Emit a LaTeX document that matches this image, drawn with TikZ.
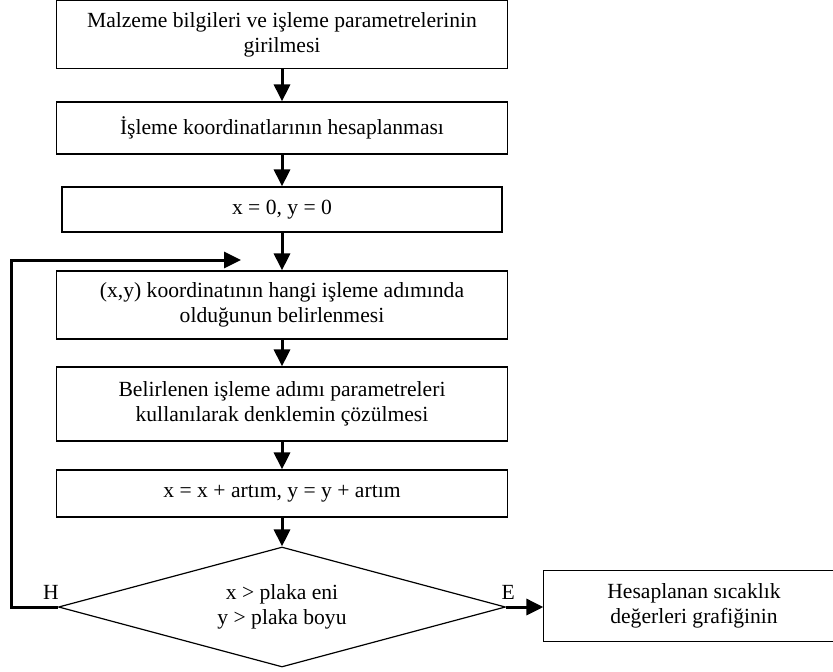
\documentclass[tikz,border=0pt]{standalone}
\usepackage{fontspec}
\setmainfont{Liberation Serif}
\usetikzlibrary{arrows.meta,shapes.geometric}

\begin{document}
\begin{tikzpicture}[x=1pt, y=-1pt,
		yazi/.style={font=\fontsize{21.6}{25}\selectfont},
		kenar/.style={line width=1.2pt},
		kutu/.style={draw, kenar, rectangle, inner sep=0pt, align=center, yazi},
		karar/.style={draw, kenar, diamond, aspect=3.7, inner sep=0pt, minimum width=447pt, minimum height=120pt, align=center, yazi},
		ok/.style={line width=3pt, -{Triangle[length=17pt, width=16pt]}},
		etiket/.style={inner sep=0pt, yazi}]
			%%%%% START %%%%%
			
			\useasboundingbox (0, 0) rectangle (833, 672);
			\clip (0, 0) rectangle (833, 672);
			
			\node[kutu, minimum width=451pt, minimum height=68pt] (giris) at (282, 34.5) {Malzeme bilgileri ve işleme parametrelerinin\\girilmesi};
			\node[kutu, minimum width=451pt, minimum height=52pt] (koord) at (282, 128) {İşleme koordinatlarının hesaplanması};
			\node[kutu, minimum width=440pt, minimum height=45pt] (baslat) at (282, 209.5) {x = 0, y = 0};
			\node[kutu, minimum width=451pt, minimum height=68pt] (adim) at (282, 305) {(x,y) koordinatının hangi işleme adımında\\olduğunun belirlenmesi};
			\node[kutu, minimum width=451pt, minimum height=74pt] (cozum) at (282, 404) {Belirlenen işleme adımı parametreleri\\kullanılarak denklemin çözülmesi};
			\node[kutu, minimum width=451pt, minimum height=47pt] (artim) at (282, 493.5) {x = x + artım, y = y + artım};
			\node[karar] (kontrol) at (282, 607) {x > plaka eni\\y > plaka boyu};
			
			% sag kenari resmin disinda kalan kutu
			\node[kutu, draw=none, minimum width=300pt, minimum height=70pt] (sonuc) at (694, 606) {Hesaplanan sıcaklık\\değerleri grafiğinin};
			\draw[kenar] (sonuc.north east) -- (sonuc.north west) -- (sonuc.south west) -- (sonuc.south east);
			
			\draw[ok] (giris) -- (koord);
			\draw[ok] (koord) -- (baslat);
			\draw[ok] (baslat) -- (adim);
			\draw[ok] (adim) -- (cozum);
			\draw[ok] (cozum) -- (artim);
			\draw[ok] (artim) -- (kontrol);
			
			% hayir: geri donus
			\coordinate (donus) at (241, 260);
			\draw[ok] (kontrol.west) -- ++(-46, 0) |- (donus);
			\node[etiket] (hayir) at ([xshift=-7pt, yshift=15pt]kontrol.west) {H};
			
			% evet
			\draw[ok] (kontrol.east) -- (kontrol.east -| sonuc.west);
			\node[etiket] (evet) at ([xshift=2pt, yshift=15pt]kontrol.east) {E};
			
			%%%%% END %%%%%
		\end{tikzpicture}
\end{document}
